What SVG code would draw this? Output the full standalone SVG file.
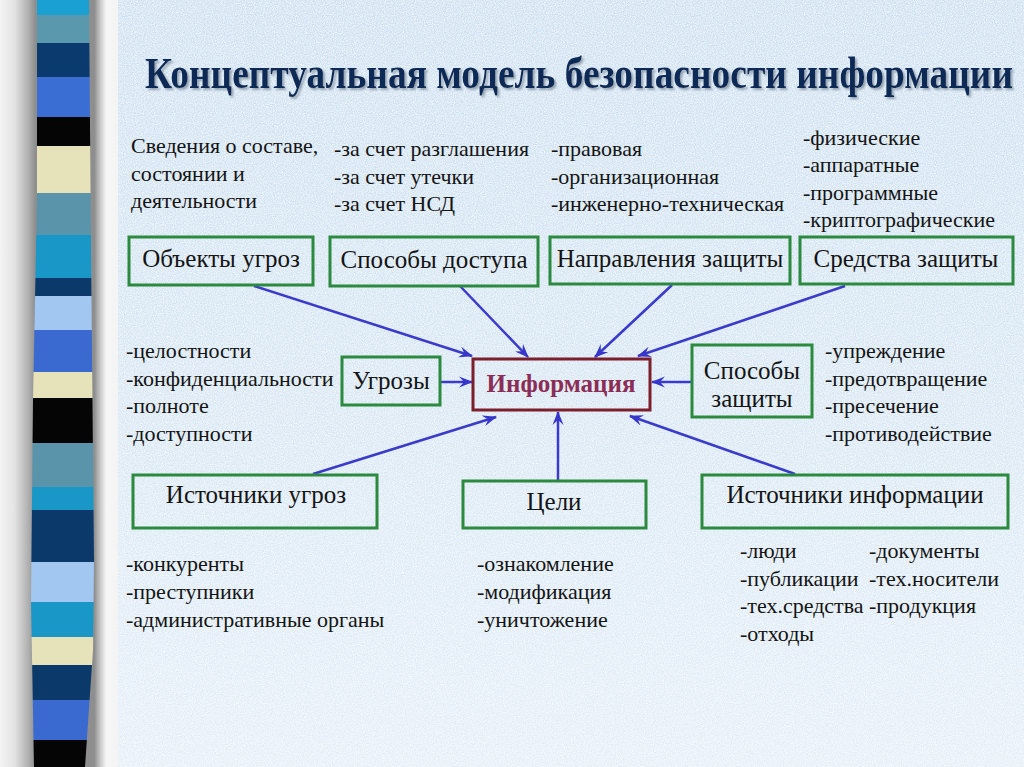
<svg xmlns="http://www.w3.org/2000/svg" width="1024" height="767" viewBox="0 0 1024 767">
<defs>
<linearGradient id="side" x1="0" y1="0" x2="1" y2="0">
<stop offset="0" stop-color="#f4f4f4"/>
<stop offset="0.12" stop-color="#e4e4e4"/>
<stop offset="0.24" stop-color="#b0b0b0"/>
<stop offset="0.3" stop-color="#8e8e8e"/>
<stop offset="0.8" stop-color="#8e8e8e"/>
<stop offset="0.85" stop-color="#c8c8c8"/>
<stop offset="0.9" stop-color="#f6f6f6"/>
<stop offset="1" stop-color="#f4f4f4"/>
</linearGradient>
<linearGradient id="bg" x1="0" y1="0" x2="0" y2="1">
<stop offset="0" stop-color="#cadff0"/>
<stop offset="0.5" stop-color="#d4e5f3"/>
<stop offset="1" stop-color="#e3eef8"/>
</linearGradient>
<filter id="tex" x="0" y="0" width="1" height="1">
<feTurbulence type="fractalNoise" baseFrequency="0.9" numOctaves="2" seed="3" result="n"/>
<feColorMatrix in="n" type="matrix" values="0 0 0 0 1  0 0 0 0 1  0 0 0 0 1  0 0 0 -1.2 0.9" result="w"/>
<feComposite in="w" in2="SourceGraphic" operator="in" result="wm"/>
<feMerge><feMergeNode in="SourceGraphic"/><feMergeNode in="wm"/></feMerge>
</filter>
<filter id="shadow" x="-5%" y="-20%" width="110%" height="140%">
<feGaussianBlur in="SourceAlpha" stdDeviation="1.2"/>
<feOffset dx="2" dy="2" result="b"/>
<feFlood flood-color="#7f8fa0" flood-opacity="0.8"/>
<feComposite in2="b" operator="in"/>
<feMerge><feMergeNode/><feMergeNode in="SourceGraphic"/></feMerge>
</filter>
<clipPath id="barclip">
<path d="M37,0 L89,0 L91,250 L94,560 L93,650 L85,767 L34,767 L31,600 L33,400 L37,200 Z"/>
</clipPath>
<marker id="arr" viewBox="0 0 14 12" markerWidth="14" markerHeight="12" refX="13" refY="6" orient="auto" markerUnits="userSpaceOnUse">
<path d="M0,0.5 L14,6 L0,11.5 L5,6 Z" fill="#3636c8"/>
</marker>
<style>
.ser{font-family:"Liberation Serif","DejaVu Serif","Noto Serif",serif}
.box{fill:none;stroke:#2b8a3e;stroke-width:3}
.lbl{font-size:25px;fill:#141414;text-anchor:middle}
.lst{font-size:22px;fill:#141414}
.con{stroke:#3a3acb;stroke-width:2.5;fill:none;marker-end:url(#arr)}
</style>
</defs>

<g id="background">
<rect x="118" y="0" width="906" height="767" fill="url(#bg)" filter="url(#tex)"/>
<rect x="0" y="0" width="118" height="767" fill="url(#side)"/>
<g clip-path="url(#barclip)">
<rect x="0" y="0" width="120" height="15" fill="#1aa0d2"/>
<rect x="0" y="15" width="120" height="28" fill="#5a98ae"/>
<rect x="0" y="43" width="120" height="34" fill="#0b3a6e"/>
<rect x="0" y="77" width="120" height="40" fill="#3a6ed2"/>
<rect x="0" y="117" width="120" height="29" fill="#050505"/>
<rect x="0" y="146" width="120" height="47" fill="#e6e3ba"/>
<rect x="0" y="193" width="120" height="42" fill="#5a94aa"/>
<rect x="0" y="235" width="120" height="43" fill="#1998c8"/>
<rect x="0" y="278" width="120" height="18" fill="#0b3a6a"/>
<rect x="0" y="296" width="120" height="34" fill="#a2c8f2"/>
<rect x="0" y="330" width="120" height="42" fill="#3a6ad0"/>
<rect x="0" y="372" width="120" height="26" fill="#e6e3ba"/>
<rect x="0" y="398" width="120" height="45" fill="#050505"/>
<rect x="0" y="443" width="120" height="44" fill="#5a94aa"/>
<rect x="0" y="487" width="120" height="23" fill="#1998c8"/>
<rect x="0" y="510" width="120" height="52" fill="#0b3a6a"/>
<rect x="0" y="562" width="120" height="40" fill="#a2c8f2"/>
<rect x="0" y="602" width="120" height="35" fill="#1998c8"/>
<rect x="0" y="637" width="120" height="28" fill="#e6e3ba"/>
<rect x="0" y="665" width="120" height="35" fill="#0b3a6a"/>
<rect x="0" y="700" width="120" height="40" fill="#3a6ad0"/>
<rect x="0" y="740" width="120" height="27" fill="#050505"/>
</g>
</g>

<text class="ser" x="145" y="88" textLength="868" lengthAdjust="spacingAndGlyphs" font-weight="bold" font-size="44" fill="#0e2a56" filter="url(#shadow)">Концептуальная модель безопасности информации</text>

<g id="connectors">
<line class="con" x1="254" y1="286" x2="472" y2="356"/>
<line class="con" x1="460" y1="286" x2="528" y2="357"/>
<line class="con" x1="672" y1="285" x2="595" y2="357"/>
<line class="con" x1="845" y1="286" x2="638" y2="356"/>
<line class="con" x1="441" y1="382" x2="472" y2="382"/>
<line class="con" x1="692" y1="382" x2="652" y2="382"/>
<line class="con" x1="313" y1="474" x2="496" y2="417"/>
<line class="con" x1="558" y1="481" x2="558" y2="412"/>
<line class="con" x1="795" y1="474" x2="630" y2="416"/>
</g>

<g id="n-objects">
<rect class="box" x="129" y="237" width="184" height="48"/>
<text class="ser lbl" x="221" y="267">Объекты угроз</text>
</g>
<g id="n-access">
<rect class="box" x="330" y="237" width="208" height="49"/>
<text class="ser lbl" x="434" y="268">Способы доступа</text>
</g>
<g id="n-directions">
<rect class="box" x="550" y="237" width="240" height="47"/>
<text class="ser lbl" x="670" y="267">Направления защиты</text>
</g>
<g id="n-means">
<rect class="box" x="800" y="237" width="213" height="47"/>
<text class="ser lbl" x="906" y="267">Средства защиты</text>
</g>
<g id="n-threats">
<rect class="box" x="342" y="357" width="98" height="48"/>
<text class="ser lbl" x="391" y="389">Угрозы</text>
</g>
<g id="n-info">
<rect x="473" y="359" width="177" height="51" fill="none" stroke="#7a1f2b" stroke-width="3"/>
<text class="ser" x="561" y="392" font-size="25" font-weight="bold" fill="#8b2d55" text-anchor="middle">Информация</text>
</g>
<g id="n-protect">
<rect class="box" x="692" y="345" width="120" height="72"/>
<text class="ser lbl" x="752" y="379">Способы</text>
<text class="ser lbl" x="752" y="407">защиты</text>
</g>
<g id="n-sources-threats">
<rect class="box" x="133" y="475" width="244" height="53"/>
<text class="ser lbl" x="256" y="503">Источники угроз</text>
</g>
<g id="n-goals">
<rect class="box" x="463" y="481" width="183" height="47"/>
<text class="ser lbl" x="554" y="510">Цели</text>
</g>
<g id="n-sources-info">
<rect class="box" x="702" y="475" width="306" height="53"/>
<text class="ser lbl" x="855" y="503">Источники информации</text>
</g>

<g id="lists" class="ser">
<text class="lst" x="131" y="153">Сведения о составе,</text>
<text class="lst" x="131" y="181">состоянии и</text>
<text class="lst" x="131" y="208">деятельности</text>

<text class="lst" x="334" y="156">-за счет разглашения</text>
<text class="lst" x="334" y="184">-за счет утечки</text>
<text class="lst" x="334" y="211">-за счет НСД</text>

<text class="lst" x="551" y="156">-правовая</text>
<text class="lst" x="551" y="184">-организационная</text>
<text class="lst" x="551" y="211">-инженерно-техническая</text>

<text class="lst" x="803" y="145">-физические</text>
<text class="lst" x="803" y="172">-аппаратные</text>
<text class="lst" x="803" y="200">-программные</text>
<text class="lst" x="803" y="227">-криптографические</text>

<text class="lst" x="126" y="358">-целостности</text>
<text class="lst" x="126" y="386">-конфиденциальности</text>
<text class="lst" x="126" y="413">-полноте</text>
<text class="lst" x="126" y="441">-доступности</text>

<text class="lst" x="825" y="358">-упреждение</text>
<text class="lst" x="825" y="386">-предотвращение</text>
<text class="lst" x="825" y="413">-пресечение</text>
<text class="lst" x="825" y="441">-противодействие</text>

<text class="lst" x="126" y="571">-конкуренты</text>
<text class="lst" x="126" y="599">-преступники</text>
<text class="lst" x="126" y="627">-административные органы</text>

<text class="lst" x="477" y="571">-ознакомление</text>
<text class="lst" x="477" y="599">-модификация</text>
<text class="lst" x="477" y="627">-уничтожение</text>

<text class="lst" x="740" y="558">-люди</text>
<text class="lst" x="740" y="586">-публикации</text>
<text class="lst" x="740" y="613">-тех.средства</text>
<text class="lst" x="740" y="641">-отходы</text>
<text class="lst" x="869" y="558">-документы</text>
<text class="lst" x="869" y="586">-тех.носители</text>
<text class="lst" x="869" y="613">-продукция</text>
</g>
</svg>
